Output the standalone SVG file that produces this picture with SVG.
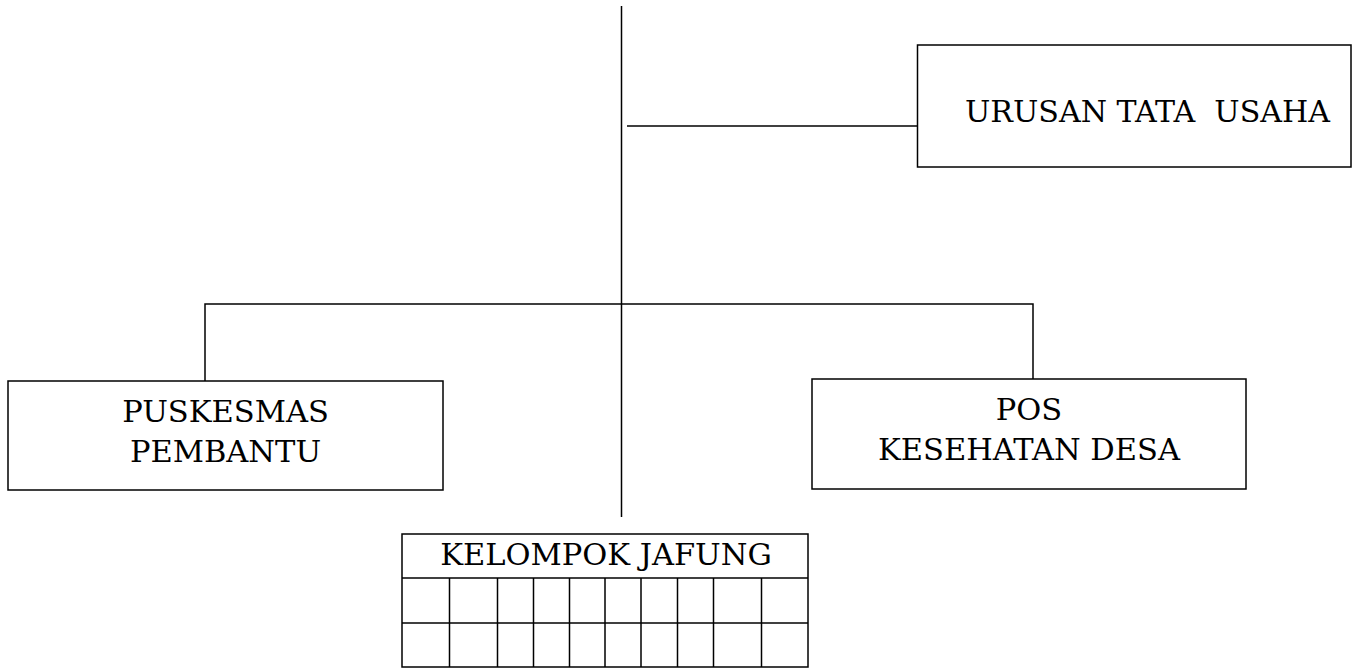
<svg xmlns="http://www.w3.org/2000/svg" width="1359" height="669" viewBox="0 0 1359 669">
<style>
.box{fill:#fff;stroke:#000;stroke-width:1.5}
.ln{stroke:#000;stroke-width:1.5;fill:none}
.t{font-family:"DejaVu Serif","Liberation Serif",serif;font-size:30.5px;fill:#000;text-anchor:middle}
</style>
<rect width="1359" height="669" fill="#fff"/>
<g id="connectors">
<line class="ln" x1="621.5" y1="6" x2="621.5" y2="517"/>
<line class="ln" x1="627" y1="126" x2="918" y2="126"/>
<polyline class="ln" points="205,381 205,304 1033,304 1033,379"/>
</g>
<g id="urusan">
<rect class="box" x="917.5" y="45" width="433.5" height="122"/>
<text class="t" x="1147.5" y="122" textLength="365" lengthAdjust="spacingAndGlyphs" style="white-space:pre">URUSAN TATA  USAHA</text>
</g>
<g id="puskesmas">
<rect class="box" x="8" y="381" width="435" height="109"/>
<text class="t" x="225.5" y="422">PUSKESMAS</text>
<text class="t" x="225.5" y="462">PEMBANTU</text>
</g>
<g id="pos">
<rect class="box" x="812" y="379" width="434" height="110"/>
<text class="t" x="1029" y="420">POS</text>
<text class="t" x="1029" y="460">KESEHATAN DESA</text>
</g>
<g id="jafung">
<rect class="box" x="402" y="534" width="406" height="133"/>
<text class="t" x="606" y="565">KELOMPOK JAFUNG</text>
<line class="ln" x1="402" y1="578" x2="808" y2="578"/>
<line class="ln" x1="402" y1="623" x2="808" y2="623"/>
<path class="ln" d="M449.5,578V667M497.5,578V667M533.5,578V667M569.5,578V667M605,578V667M641,578V667M677.5,578V667M713.5,578V667M761.5,578V667"/>
</g>
</svg>
